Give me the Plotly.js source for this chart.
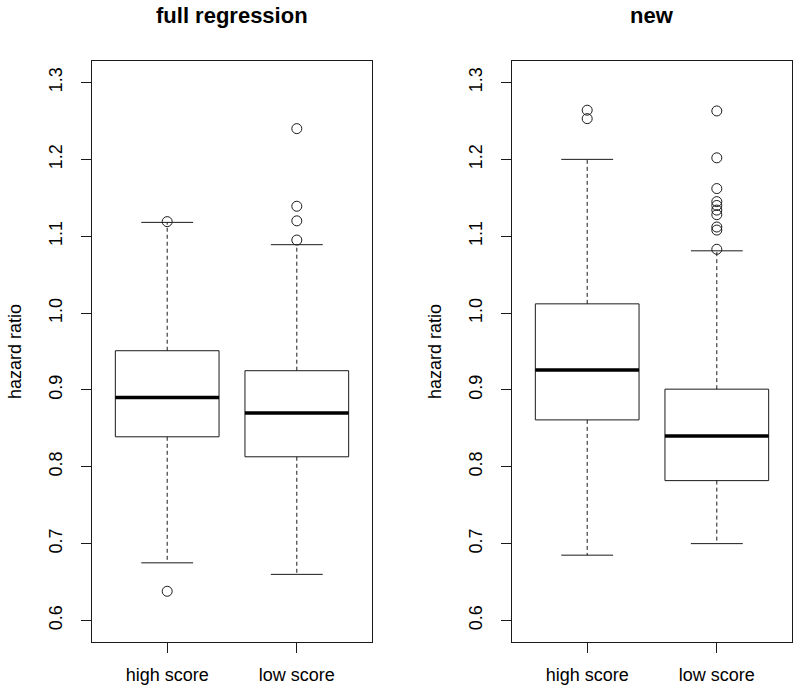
<!DOCTYPE html>
<html>
<head>
<meta charset="utf-8">
<script src="https://cdn.plot.ly/plotly-3.0.1.min.js"></script>
<style>
  html, body { margin: 0; padding: 0; background: #fff; }
  #chart { width: 800px; height: 694px; }
</style>
</head>
<body>
<div id="chart"></div>
<script>
// categories on the x axis of each panel
const categories = ["high score", "low score"];
const positions = [1, 2];
const panelTitles = ["full regression", "new"];

// panel 1: full regression
const fullLower = [0.675, 0.660];
const fullQ1 = [0.839, 0.813];
const fullMedian = [0.890, 0.870];
const fullQ3 = [0.951, 0.925];
const fullUpper = [1.118, 1.089];
const fullOutliersHigh = [1.119, 0.638];
const fullOutliersLow = [1.240, 1.139, 1.120, 1.095];

// panel 2: new
const newLower = [0.685, 0.700];
const newQ1 = [0.861, 0.782];
const newMedian = [0.926, 0.840];
const newQ3 = [1.012, 0.901];
const newUpper = [1.200, 1.081];
const newOutliersHigh = [1.264, 1.253];
const newOutliersLow = [1.263, 1.202, 1.162, 1.145, 1.140, 1.134, 1.128, 1.112, 1.108, 1.083];

const yTicks = [0.6, 0.7, 0.8, 0.9, 1.0, 1.1, 1.2, 1.3];
const yTickText = ["0.6", "0.7", "0.8", "0.9", "1.0", "1.1", "1.2", "1.3"];

const INK = "#1a1a1a";
const BOX_W = 0.8;
const CAP_W = 0.4;

function panelTraces(xa, ya, lower, q1, med, q3, upper, outliers) {
    const traces = [];
    // box body (whiskers drawn separately so they can be dashed)
    traces.push({
        type: "box",
        xaxis: xa, yaxis: ya,
        x: positions,
        q1: q1, median: med, q3: q3,
        lowerfence: q1, upperfence: q3,
        width: BOX_W,
        whiskerwidth: 0,
        fillcolor: "rgba(0,0,0,0)",
        line: { color: INK, width: 1 },
        hoverinfo: "skip",
        showlegend: false
    });
    positions.forEach((p, i) => {
        // thick median
        traces.push({
            type: "scatter", mode: "lines", xaxis: xa, yaxis: ya,
            x: [p - BOX_W / 2, p + BOX_W / 2], y: [med[i], med[i]],
            line: { color: "#000", width: 3.5 }, hoverinfo: "skip", showlegend: false
        });
        // dashed whiskers
        traces.push({
            type: "scatter", mode: "lines", xaxis: xa, yaxis: ya,
            x: [p, p, null, p, p], y: [q3[i], upper[i], null, q1[i], lower[i]],
            line: { color: INK, width: 1, dash: "4px,3px" }, hoverinfo: "skip", showlegend: false
        });
        // staples
        traces.push({
            type: "scatter", mode: "lines", xaxis: xa, yaxis: ya,
            x: [p - CAP_W / 2, p + CAP_W / 2, null, p - CAP_W / 2, p + CAP_W / 2],
            y: [upper[i], upper[i], null, lower[i], lower[i]],
            line: { color: INK, width: 1 }, hoverinfo: "skip", showlegend: false
        });
        // outliers
        traces.push({
            type: "scatter", mode: "markers", xaxis: xa, yaxis: ya,
            x: outliers[i].map(() => p), y: outliers[i],
            marker: { symbol: "circle-open", size: 10, color: INK, line: { width: 1, color: INK } },
            hoverinfo: "y", showlegend: false
        });
    });
    return traces;
}

const data = [].concat(
    panelTraces("x", "y", fullLower, fullQ1, fullMedian, fullQ3, fullUpper, [fullOutliersHigh, fullOutliersLow]),
    panelTraces("x2", "y2", newLower, newQ1, newMedian, newQ3, newUpper, [newOutliersHigh, newOutliersLow])
);

const fontFamily = "Liberation Sans, Arial, Helvetica, sans-serif";

function xAxis(domain, anchor) {
    return {
        domain: domain, anchor: anchor,
        range: [0.42, 2.58], fixedrange: true,
        tickvals: positions, ticktext: categories,
        ticks: "outside", ticklen: 10, tickwidth: 1, tickcolor: INK,
        ticklabelstandoff: 6,
        showgrid: false, zeroline: false,
        showline: true, mirror: true, linecolor: INK, linewidth: 1,
        tickfont: { size: 18, color: "#000" }
    };
}

function yAxis(anchor) {
    return {
        domain: [1 - 642 / 694, 1 - 61 / 694], anchor: anchor,
        range: [0.572, 1.328], fixedrange: true,
        tickvals: yTicks, ticktext: yTickText, tickangle: -90,
        ticks: "outside", ticklen: 10, tickwidth: 1, tickcolor: INK,
        ticklabelstandoff: 12,
        showgrid: false, zeroline: false,
        showline: true, mirror: true, linecolor: INK, linewidth: 1,
        tickfont: { size: 18, color: "#000" },
        title: { text: "hazard ratio", font: { size: 18, color: "#000" }, standoff: 19 }
    };
}

const layout = {
    width: 800, height: 694,
    margin: { l: 0, r: 0, t: 0, b: 0 },
    paper_bgcolor: "#fff", plot_bgcolor: "#fff",
    font: { family: fontFamily, color: "#000" },
    showlegend: false,
    xaxis: xAxis([92 / 800, 372 / 800], "y"),
    yaxis: yAxis("x"),
    xaxis2: xAxis([512 / 800, 792 / 800], "y2"),
    yaxis2: yAxis("x2"),
    annotations: panelTitles.map((t, i) => ({
        text: t, showarrow: false,
        xref: "paper", yref: "paper",
        x: i === 0 ? 232 / 800 : 652 / 800,
        y: 1 - 16 / 694, yanchor: "middle", xanchor: "center",
        font: { size: 22, weight: "bold", color: "#000" }
    }))
};

Plotly.newPlot("chart", data, layout, { displayModeBar: false, staticPlot: true });
</script>
</body>
</html>
